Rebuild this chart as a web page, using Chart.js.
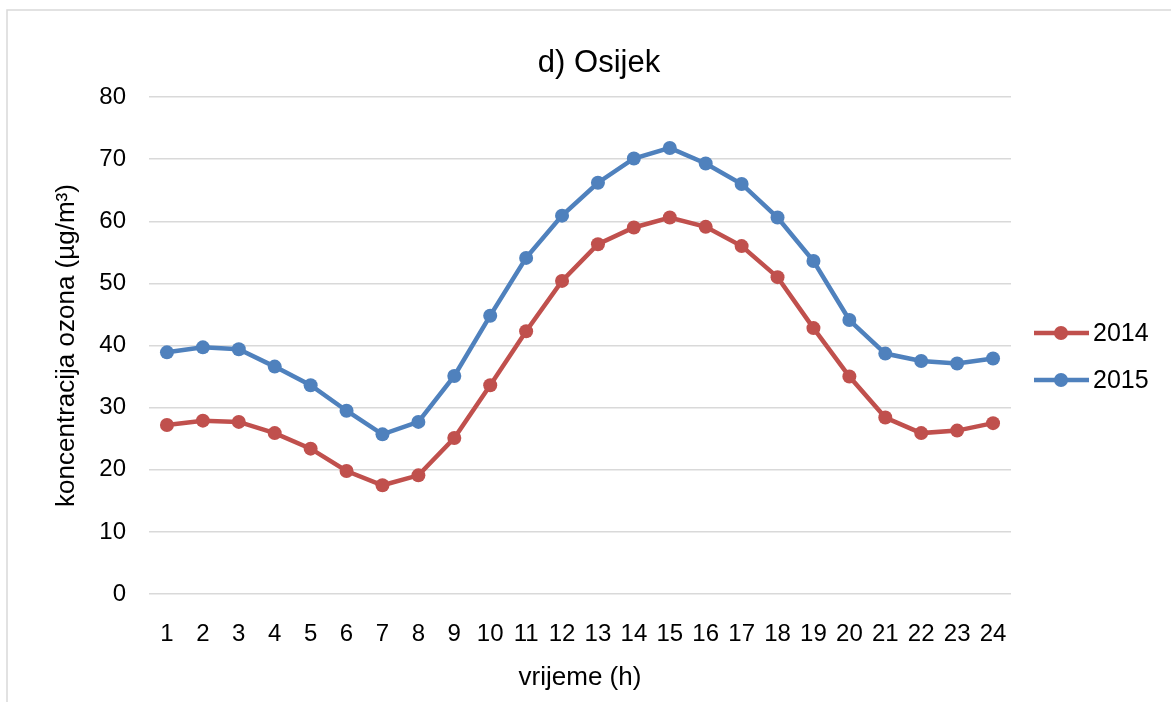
<!DOCTYPE html>
<html lang="hr">
<head>
    <meta charset="UTF-8">
    <title>d) Osijek</title>
    <script src="https://cdn.jsdelivr.net/npm/chart.js"></script>
    <style>
        body {
            margin: 0;
            background: #fff;
        }
        #wrap {
            position: relative;
            width: 1171px;
            height: 702px;
        }
    </style>
</head>
<body>
    <div id="wrap">
        <canvas id="ozoneChart" width="1171" height="702"></canvas>
    </div>

    <script>
        // sati (h)
        const hours = ['1', '2', '3', '4', '5', '6', '7', '8', '9', '10', '11', '12',
                       '13', '14', '15', '16', '17', '18', '19', '20', '21', '22', '23', '24'];

        // koncentracija ozona, µg/m³
        const ozone2014 = [27.2, 27.9, 27.7, 25.9, 23.4, 19.8, 17.5, 19.1, 25.1, 33.6, 42.3, 50.4,
                           56.3, 59.0, 60.6, 59.1, 56.0, 51.0, 42.8, 35.0, 28.4, 25.9, 26.3, 27.5];
        const ozone2015 = [38.9, 39.7, 39.4, 36.6, 33.6, 29.5, 25.7, 27.7, 35.1, 44.8, 54.1, 60.9,
                           66.2, 70.1, 71.8, 69.3, 66.0, 60.6, 53.6, 44.1, 38.7, 37.5, 37.1, 37.9];

        const yTicks = [0, 10, 20, 30, 40, 50, 60, 70, 80];

        const red = '#C0504D';
        const blue = '#4F81BD';
        const gridGray = '#d9d9d9';

        // frame around the chart and the legend on the right
        const extras = {
            id: 'extras',
            beforeDraw(chart) {
                const ctx = chart.ctx;
                ctx.save();
                ctx.strokeStyle = gridGray;
                ctx.lineWidth = 1.5;
                ctx.beginPath();
                ctx.moveTo(7, 702);
                ctx.lineTo(7, 10);
                ctx.lineTo(1171, 10);
                ctx.stroke();
                ctx.restore();
            },
            afterDraw(chart) {
                const ctx = chart.ctx;
                const items = chart.data.datasets.map((ds, i) => ({
                    label: ds.label,
                    color: ds.borderColor,
                    y: 333 + i * 47
                }));
                ctx.save();
                items.forEach(it => {
                    ctx.strokeStyle = it.color;
                    ctx.fillStyle = it.color;
                    ctx.lineWidth = 4.5;
                    ctx.beginPath();
                    ctx.moveTo(1034, it.y);
                    ctx.lineTo(1089, it.y);
                    ctx.stroke();
                    ctx.beginPath();
                    ctx.arc(1061, it.y, 7, 0, Math.PI * 2);
                    ctx.fill();
                    ctx.fillStyle = '#000';
                    ctx.font = '25px "Liberation Sans", Arial, sans-serif';
                    ctx.textBaseline = 'middle';
                    ctx.textAlign = 'left';
                    ctx.fillText(it.label, 1093, it.y + 1);
                });
                ctx.restore();
            }
        };

        const font = '"Liberation Sans", Arial, sans-serif';

        new Chart(document.getElementById('ozoneChart'), {
            type: 'line',
            data: {
                labels: hours,
                datasets: [{
                    label: '2014',
                    data: ozone2014,
                    borderColor: red,
                    backgroundColor: red,
                    borderWidth: 4.5,
                    pointRadius: 7,
                    pointBorderWidth: 0,
                    tension: 0
                }, {
                    label: '2015',
                    data: ozone2015,
                    borderColor: blue,
                    backgroundColor: blue,
                    borderWidth: 4.5,
                    pointRadius: 7,
                    pointBorderWidth: 0,
                    tension: 0
                }]
            },
            options: {
                responsive: false,
                animation: false,
                layout: {
                    padding: { left: 27, right: 0, top: 0, bottom: 0 }
                },
                plugins: {
                    legend: { display: false },
                    tooltip: { enabled: false },
                    title: {
                        display: true,
                        text: 'd) Osijek',
                        color: '#000',
                        font: { family: font, size: 31, weight: 'normal' },
                        padding: { top: 45, bottom: 14.8 }
                    }
                },
                scales: {
                    x: {
                        offset: true,
                        grid: { display: false },
                        border: { display: false },
                        ticks: {
                            color: '#000',
                            font: { family: font, size: 24 },
                            padding: 18,
                            maxRotation: 0,
                            autoSkip: false
                        },
                        title: {
                            display: true,
                            text: 'vrijeme (h)',
                            color: '#000',
                            font: { family: font, size: 26 },
                            padding: { top: 0, bottom: 9 }
                        },
                        afterFit(scale) { scale.height = 108; }
                    },
                    y: {
                        min: 0,
                        max: 80,
                        afterBuildTicks(scale) {
                            scale.ticks = yTicks.map(v => ({ value: v }));
                        },
                        grid: {
                            color: gridGray,
                            lineWidth: 1.5,
                            drawTicks: false
                        },
                        border: { display: false },
                        ticks: {
                            color: '#000',
                            font: { family: font, size: 24 },
                            padding: 23
                        },
                        title: {
                            display: true,
                            text: 'koncentracija ozona (µg/m³)',
                            color: '#000',
                            font: { family: font, size: 26 },
                            padding: { top: 24, bottom: 0 }
                        },
                        afterFit(scale) { scale.width = 122; }
                    },
                    legendSpace: {
                        type: 'linear',
                        position: 'right',
                        display: true,
                        grid: { display: false },
                        border: { display: false },
                        ticks: { display: false },
                        afterFit(scale) { scale.width = 160; }
                    }
                }
            },
            plugins: [extras]
        });
    </script>
</body>
</html>
